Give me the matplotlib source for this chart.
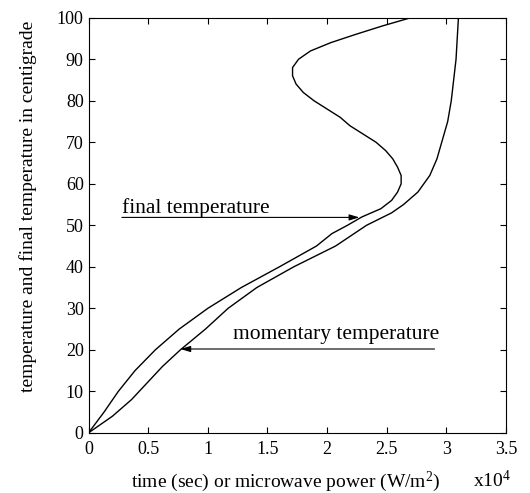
import matplotlib.pyplot as plt

plt.rcParams['font.family'] = ['Liberation Serif', 'DejaVu Serif']
plt.rcParams['mathtext.fontset'] = 'custom'
plt.rcParams['mathtext.rm'] = 'Liberation Serif'
plt.rcParams['mathtext.it'] = 'Liberation Serif'
plt.rcParams['mathtext.bf'] = 'Liberation Serif'

# temperature (y) and position on the x axis (units of 1e4)
final_temp = [0, 5, 10, 15, 20, 25, 30, 35, 40, 45, 48, 50, 52, 54, 56, 58, 60,
              62, 64, 66, 68, 70, 72, 74, 76, 78, 80, 82, 84, 86, 88, 90, 92,
              94, 96, 98, 100]
final_x = [0, 0.13, 0.25, 0.39, 0.56, 0.76, 1.0, 1.28, 1.60, 1.91, 2.04, 2.17,
           2.29, 2.45, 2.54, 2.59, 2.62, 2.62, 2.59, 2.55, 2.49, 2.41, 2.30,
           2.19, 2.11, 2.00, 1.89, 1.80, 1.74, 1.71, 1.71, 1.76, 1.86, 2.03,
           2.24, 2.46, 2.70]

moment_temp = [0, 4, 8, 12, 16, 20, 25, 30, 35, 40, 45, 50, 53, 55, 58, 62,
               66, 70, 75, 80, 85, 90, 95, 100]
moment_x = [0, 0.20, 0.36, 0.49, 0.62, 0.77, 0.98, 1.17, 1.41, 1.72, 2.07,
            2.33, 2.54, 2.64, 2.76, 2.86, 2.92, 2.96, 3.01, 3.04, 3.06, 3.08,
            3.09, 3.10]

fig = plt.figure(figsize=(5.30, 4.93), dpi=100)
ax = fig.add_axes([0.167, 0.122, 0.788, 0.842])

ax.plot(final_x, final_temp, color='black', lw=1.0)
ax.plot(moment_x, moment_temp, color='black', lw=1.0)

arrow = dict(arrowstyle='-|>,head_length=0.5,head_width=0.15', color='black',
             lw=0.8, mutation_scale=12, shrinkA=0, shrinkB=0)
ax.annotate('', xy=(2.27, 51.9), xytext=(0.28, 51.9), arrowprops=arrow)
ax.text(0.28, 53.0, 'final temperature', fontsize=15.5, ha='left',
        va='baseline')

ax.annotate('', xy=(0.77, 20.2), xytext=(2.90, 20.2), arrowprops=arrow)
ax.text(1.21, 22.6, 'momentary temperature', fontsize=15.5, ha='left',
        va='baseline')

ax.set_xlim(0, 3.5)
ax.set_ylim(0, 100)
ax.set_xticks([0, 0.5, 1, 1.5, 2, 2.5, 3, 3.5])
ax.set_xticklabels(['0', '0.5', '1', '1.5', '2', '2.5', '3', '3.5'])
ax.set_yticks(range(0, 101, 10))
ax.tick_params(direction='in', top=True, right=True, length=4, labelsize=13)
ax.tick_params(axis='x', pad=6)

fig.text(0.053, 0.582, 'temperature and final temperature in centigrade',
         fontsize=14, rotation=90, ha='center', va='center')
fig.text(0.538, 0.012, 'time (sec) or microwave power (W/m$^2$)', fontsize=14,
         ha='center', va='baseline')
fig.text(0.892, 0.012, 'x10$^4$', fontsize=14, ha='left', va='baseline')

fig.savefig('out.png', dpi=100)
